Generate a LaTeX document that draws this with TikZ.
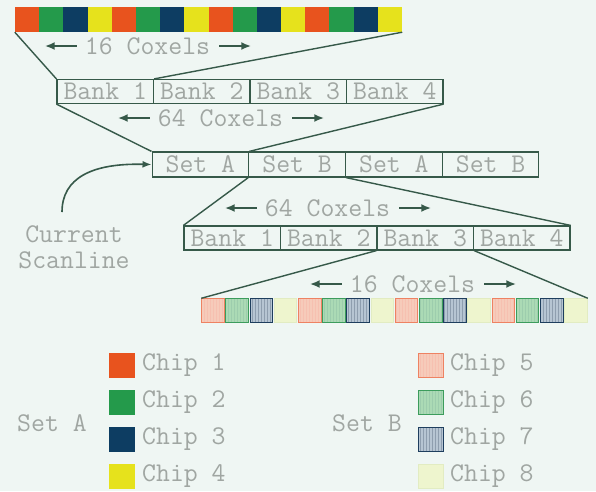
\documentclass[tikz,border=0pt]{standalone}
\usepackage{fontspec}
\usetikzlibrary{arrows.meta,positioning,calc,patterns}
\definecolor{bgmint}{HTML}{EFF6F3}
\definecolor{edge}{HTML}{365949}
\definecolor{txtgrey}{HTML}{A0A6A2}
\definecolor{chipA}{HTML}{E8531E}
\definecolor{chipB}{HTML}{249A4B}
\definecolor{chipC}{HTML}{0D3D62}
\definecolor{chipD}{HTML}{E6E21C}
\definecolor{chipEf}{HTML}{F6CBBA}
\definecolor{chipEd}{HTML}{EE8262}
\definecolor{chipFf}{HTML}{ABDAB5}
\definecolor{chipFd}{HTML}{3C9C5C}
\definecolor{chipGf}{HTML}{B6C5D3}
\definecolor{chipGd}{HTML}{1E3E5E}
\definecolor{chipHf}{HTML}{EEF5CE}
\definecolor{chipHd}{HTML}{E2ECC2}

\begin{document}
\begin{tikzpicture}[x=1pt,y=-1pt,
 font=\ttfamily\fontsize{27}{26}\selectfont,>=Latex,
 cell/.style={draw=edge,line width=1.2pt,minimum width=96.5pt,minimum height=24pt,inner sep=0pt,text=txtgrey},
 coxel/.style={inner sep=0pt,text=txtgrey},
 flow/.style={-{Latex[length=10pt,width=8pt]},draw=edge,line width=2.2pt},
 zoomline/.style={draw=edge,line width=1.4pt},
 solid chip/.style={minimum width=24.2pt,minimum height=25pt,inner sep=0pt,fill=#1},
 hatch/.style 2 args={minimum width=22.6pt,minimum height=23.5pt,inner sep=0pt,draw=#2,line width=1pt,
   preaction={fill=#1},pattern=vertical lines,pattern color=#2!50},
 hatchE/.style={hatch={chipEf}{chipEd}},
 hatchF/.style={hatch={chipFf}{chipFd}},
 hatchG/.style={hatch={chipGf}{chipGd}},
 hatchH/.style={minimum width=22.6pt,minimum height=23.5pt,inner sep=0pt,draw=chipHd,line width=1pt,fill=chipHf},
 swatch/.style={minimum width=26pt,minimum height=25pt,inner sep=0pt},
 legend/.style={anchor=west,inner sep=0pt,text=txtgrey}]
\fill[bgmint] (0,0) rectangle (596,491);
\useasboundingbox (0,0) rectangle (596,491);

\foreach \g in {0,...,3}
 \foreach \c [count=\j] in {chipA,chipB,chipC,chipD} {
  \pgfmathtruncatemacro\i{4*\g+\j}
  \node[solid chip=\c] (t\i) at ({15+24.19*(\i-0.5)},19.5) {};
 }
\foreach \t [count=\i] in {Bank 1,Bank 2,Bank 3,Bank 4}
 \node[cell] (b\i) at ({57+96.5*(\i-0.5)},91.5) {\t};
\foreach \t [count=\i] in {Set A,Set B,Set A,Set B}
 \node[cell,minimum height=25pt] (s\i) at ({152+96.75*(\i-0.5)},164.5) {\t};
\foreach \t [count=\i] in {Bank 1,Bank 2,Bank 3,Bank 4}
 \node[cell] (c\i) at ({184+96.5*(\i-0.5)},238) {\t};
\foreach \g in {0,...,3}
 \foreach \c [count=\j] in {hatchE,hatchF,hatchG,hatchH} {
  \pgfmathtruncatemacro\i{4*\g+\j}
  \node[\c] (u\i) at ({201+24.19*(\i-0.5)},310.5) {};
 }

\draw[zoomline] (t1.south west) -- (b1.north west);
\draw[zoomline] (t16.south east) -- (b1.north east);
\draw[zoomline] (b1.south west) -- (s1.north west);
\draw[zoomline] (b4.south east) -- (s1.north east);
\draw[zoomline] (s2.south west) -- (c1.north west);
\draw[zoomline] (s2.south east) -- (c4.north east);
\draw[zoomline] (c3.south west) -- (u1.north west);
\draw[zoomline] (c3.south east) -- (u16.north east);

\node[coxel] (k1) at (147.5,46) {16 Coxels};
\node[coxel] (k2) at (220.5,118) {64 Coxels};
\node[coxel] (k3) at (327.5,208) {64 Coxels};
\node[coxel] (k4) at (412.5,284) {16 Coxels};
\foreach \k in {k1,k2,k3,k4} {
 \draw[flow] ([xshift=-8pt]\k.west) -- ++(-32,0);
 \draw[flow] ([xshift=9pt]\k.east) -- ++(32,0);
}

\node[coxel,align=center] (scan) at (74,247) {Current\\Scanline};
\coordinate (tail) at (62,212);
\draw[-{Latex[length=9pt,width=7pt]},draw=edge,line width=1.6pt]
 (tail) .. controls (62,178) and (92,163) .. (s1.west);

\foreach \c [count=\i] in {chipA,chipB,chipC,chipD} {
 \node[swatch,fill=\c] (sq\i) at (121.5,{365.5+37*(\i-1)}) {};
 \node[legend] (ch\i) at (142,{365.5+37*(\i-1)}) {Chip \i};
}
\foreach \c [count=\j] in {hatchE,hatchF,hatchG,hatchH} {
 \pgfmathtruncatemacro\i{4+\j}
 \node[\c,minimum width=25pt,minimum height=24pt] (sq\i) at (431,{365.5+37*(\j-1)}) {};
 \node[legend] (ch\i) at (450,{365.5+37*(\j-1)}) {Chip \i};
}
\node[coxel] (seta) at (52,423) {Set A};
\node[coxel] (setb) at (367,423) {Set B};
\end{tikzpicture}
\end{document}
